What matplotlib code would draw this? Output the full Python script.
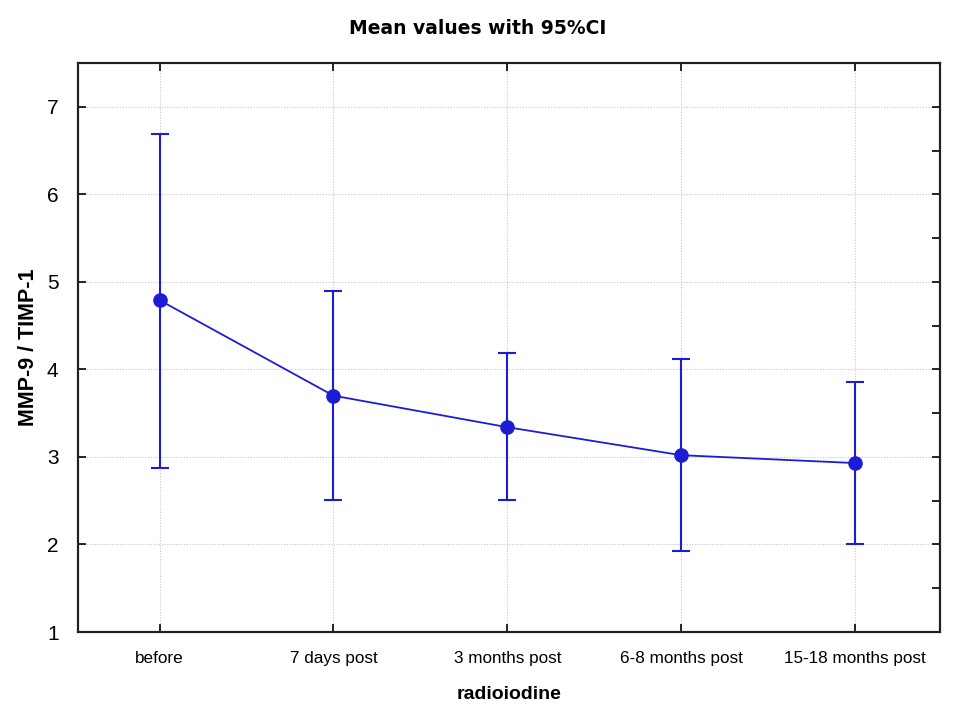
import matplotlib
matplotlib.use("Agg")
import matplotlib.pyplot as plt
from matplotlib.ticker import MultipleLocator

categories = ["before", "7 days post", "3 months post", "6-8 months post", "15-18 months post"]
means = [4.79, 3.70, 3.34, 3.02, 2.93]
upper = [6.69, 4.89, 4.19, 4.12, 3.86]
lower = [2.87, 2.51, 2.51, 1.93, 2.01]

color = "#1c1cd6"

fig = plt.figure(figsize=(9.6, 7.2), dpi=100)
ax = fig.add_axes([0.08125, 0.1222, 0.8979, 0.7903])

x = list(range(len(categories)))
yerr = [[m - l for m, l in zip(means, lower)], [u - m for m, u in zip(means, upper)]]
ax.errorbar(x, means, yerr=yerr, color=color, lw=1.3, elinewidth=1.5, capsize=6.5,
            capthick=1.5, marker="o", markersize=9.5, zorder=3)

ax.set_xlim(-0.47, 4.49)
ax.set_ylim(1, 7.5)
ax.set_xticks(x)
ax.set_xticklabels(categories, fontfamily="Liberation Sans", fontsize=12.3)
ax.set_yticks([1, 2, 3, 4, 5, 6, 7])
for lab in ax.get_yticklabels():
    lab.set_fontfamily("Liberation Sans")
    lab.set_fontsize(15)

ax.grid(True, color="#c4c4c4", linestyle=(0, (1, 1.5)), linewidth=0.8)
ax.tick_params(axis="both", direction="in", length=6, width=1.2, top=True, right=False)
ax.tick_params(axis="y", pad=14)
ax.tick_params(axis="x", pad=14)

# right-side ticks (major + minor at half-units)
ax2 = ax.twinx()
ax2.set_ylim(ax.get_ylim())
ax2.yaxis.set_major_locator(MultipleLocator(0.5))
ax2.tick_params(axis="y", direction="in", length=6, width=1.2, labelright=False)

for a in (ax, ax2):
    for s in a.spines.values():
        s.set_linewidth(1.5)
        s.set_color("#202020")

ax.set_xlabel("radioiodine", fontfamily="Liberation Sans", fontweight="bold", fontsize=14, labelpad=14)
ax.set_ylabel("MMP-9 / TIMP-1", fontfamily="Liberation Sans", fontweight="bold", fontsize=15.5, labelpad=6)
fig.text(0.498, 0.960, "Mean values with 95%CI", ha="center", va="center",
         fontfamily="DejaVu Sans", fontweight="bold", fontsize=13.5)

fig.savefig("out.png", dpi=100, facecolor="white")
